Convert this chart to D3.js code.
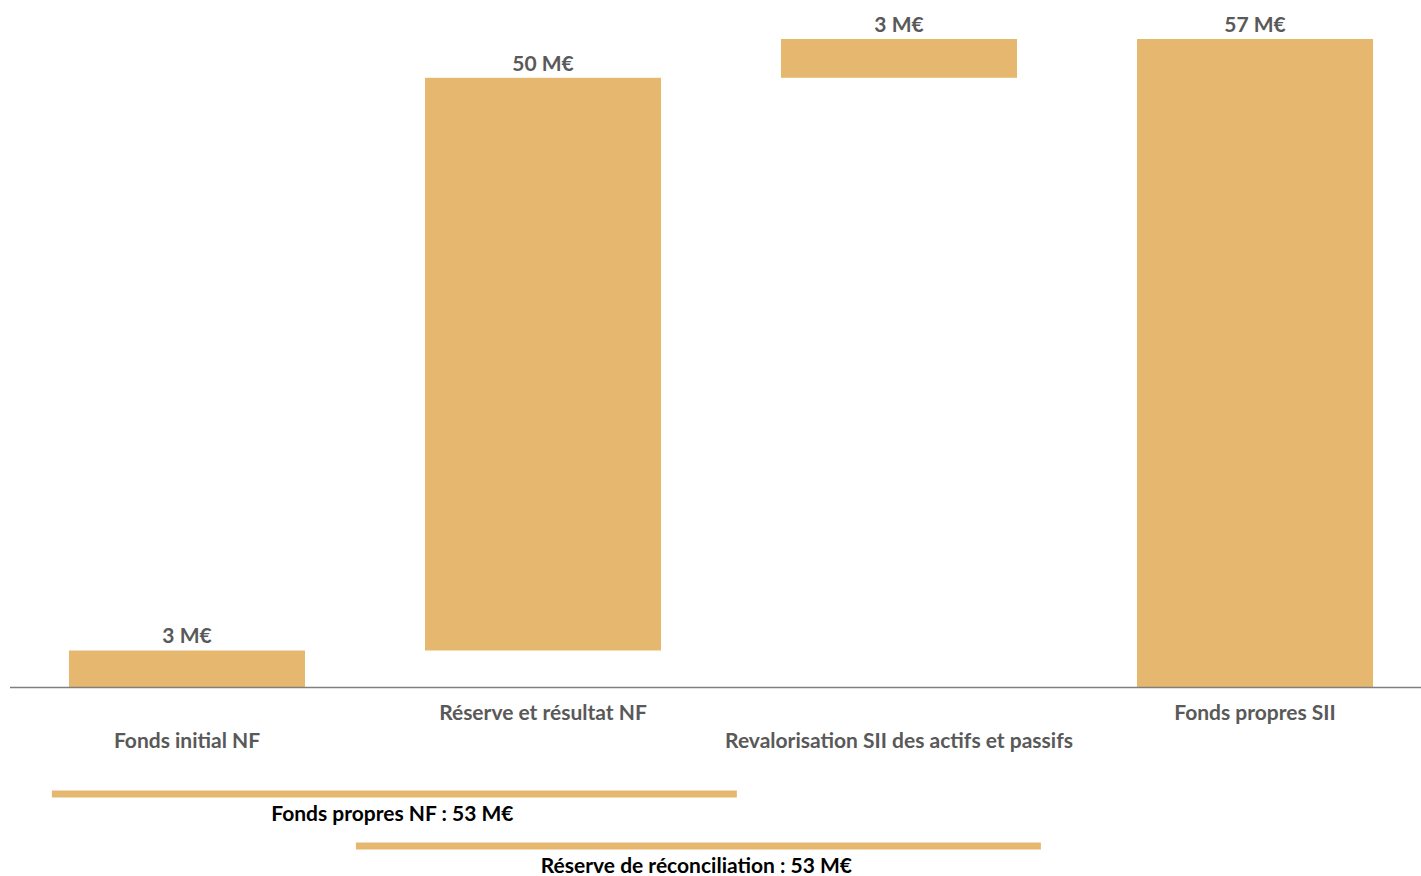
<!DOCTYPE html>
<html><head><meta charset="utf-8">
<script src="https://cdn.jsdelivr.net/npm/d3@7"></script>
<style>
html,body{margin:0;padding:0;background:#fff;}
svg{display:block;font-family:Lato,"Open Sans",sans-serif;font-weight:700;}
</style></head>
<body><svg id="chart" width="1421" height="876"></svg>
<script>
const categories = ["Fonds initial NF", "Réserve et résultat NF", "Revalorisation SII des actifs et passifs", "Fonds propres SII"];
const values = [3.2, 50.2, 3.4, 56.8];
const isTotal = [false, false, false, true];
const valueLabels = ["3 M€", "50 M€", "3 M€", "57 M€"];
const bracketLabels = ["Fonds propres NF : 53 M€", "Réserve de réconciliation : 53 M€"];
const bracketSpans = [[0, 1], [1, 2]];

const W = 1421, H = 876;
const barColor = "#E6B86F";
const svg = d3.select("#chart");

let run = 0;
const bars = categories.map((c, i) => {
  let start, end;
  if (isTotal[i]) { start = 0; end = values[i]; }
  else { start = run; end = run + values[i]; run = end; }
  return {cat: c, start, end, label: valueLabels[i], i};
});

const x = d3.scaleBand().domain(categories).range([9, 1433]).paddingInner(0.337).paddingOuter(0.1685);
const y = d3.scaleLinear().domain([0, d3.max(bars, d => d.end)]).range([687, 39]);

svg.selectAll("rect.bar").data(bars).join("rect").attr("class", "bar")
  .attr("x", d => x(d.cat)).attr("width", x.bandwidth())
  .attr("y", d => y(d.end)).attr("height", d => y(d.start) - y(d.end))
  .attr("fill", barColor);

svg.append("line").attr("x1", 10).attr("x2", W).attr("y1", y(0) + 0.5).attr("y2", y(0) + 0.5)
  .attr("stroke", "#7f7f7f").attr("stroke-width", 1.5);

svg.selectAll("text.val").data(bars).join("text").attr("class", "val")
  .attr("x", d => x(d.cat) + x.bandwidth() / 2).attr("y", d => y(d.end) - 7)
  .attr("text-anchor", "middle").attr("font-size", 21).attr("fill", "#595959")
  .text(d => d.label);

svg.selectAll("text.cat").data(bars).join("text").attr("class", "cat")
  .attr("x", d => x(d.cat) + x.bandwidth() / 2)
  .attr("y", d => d.i % 2 === 0 ? 748 : 720)
  .attr("text-anchor", "middle").attr("font-size", 21).attr("fill", "#595959")
  .text(d => d.cat);

const step = x.step();
const bracketGeom = [
  {x1: x(categories[bracketSpans[0][0]]) - 0.048 * step, x2: x(categories[bracketSpans[0][1]]) + x.bandwidth() + 0.213 * step, y: 794},
  {x1: x(categories[bracketSpans[1][0]]) - 0.194 * step, x2: x(categories[bracketSpans[1][1]]) + x.bandwidth() + 0.067 * step, y: 846}
];
bracketGeom.forEach((g, k) => {
  svg.append("rect").attr("x", g.x1).attr("y", g.y - 3.5).attr("width", g.x2 - g.x1).attr("height", 7).attr("fill", barColor);
  svg.append("text").attr("x", (g.x1 + g.x2) / 2 - 2).attr("y", g.y + 27)
    .attr("text-anchor", "middle").attr("font-size", 21).attr("fill", "#000").text(bracketLabels[k]);
});
</script></body></html>
